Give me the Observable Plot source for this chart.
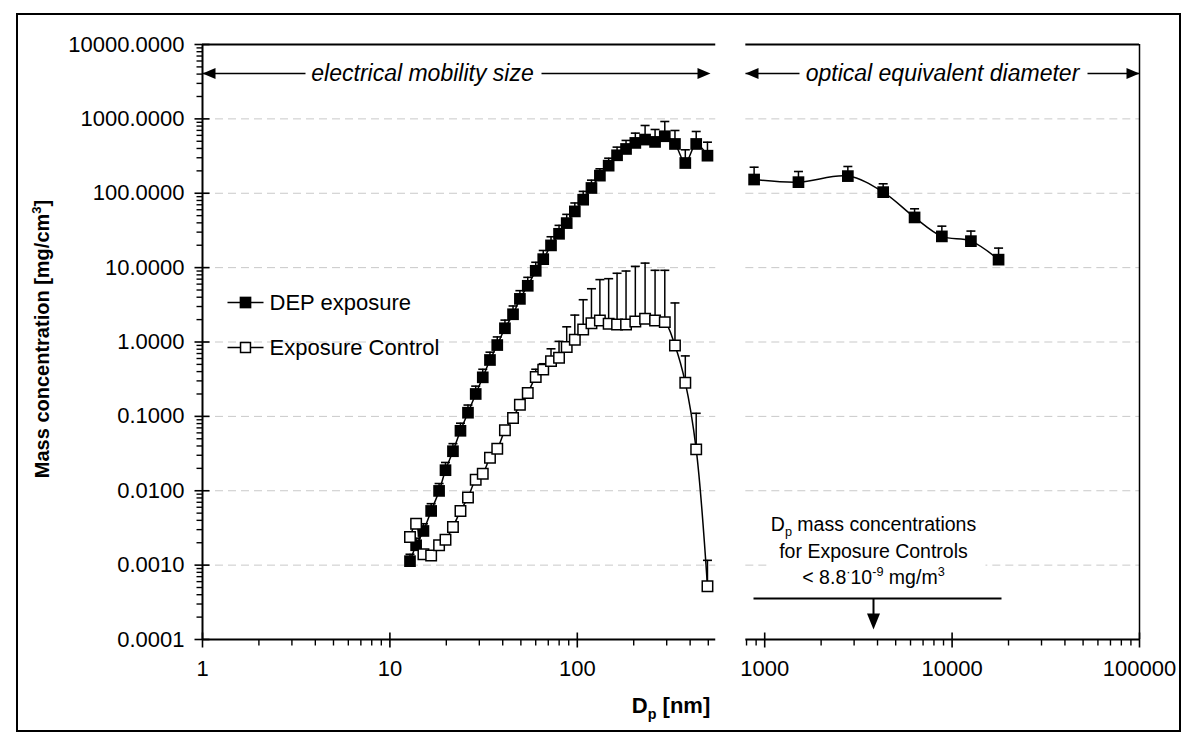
<!DOCTYPE html>
<html><head><meta charset="utf-8">
<script src="https://cdn.jsdelivr.net/npm/d3@7"></script>
<script src="https://cdn.jsdelivr.net/npm/@observablehq/plot@0.6"></script>
<style>
body{margin:0;background:#fff;}
#chart{position:relative;width:1200px;height:745px;}
</style>
</head><body><div id="chart"></div>
<script>
// ---------- data ----------
const diameters = [12.8,13.8,15.1,16.6,18.3,19.8,21.7,23.8,26.1,28.7,31.3,34.2,37.4,41.1,45.4,49.4,54.4,60.0,65.8,72.4,79.9,87.8,97.0,107.5,119,132,147,163,182,204,230,260,293,332,377,431,495];
const depMass = [0.00113,0.00185,0.00288,0.00535,0.00995,0.0189,0.034,0.064,0.112,0.2,0.335,0.573,0.91,1.53,2.36,3.8,5.7,9.06,13.0,19.9,28.5,39.7,57,81.9,117.7,172.5,235,324,394,475,527,490,584,460,255,460,320];
const depHigh = [0.0014,0.0023,0.0036,0.0067,0.0125,0.024,0.043,0.081,0.142,0.255,0.43,0.73,1.17,1.97,3.05,4.9,7.4,11.8,17,26,37,52,74,106,150,213,296,417,513,643,815,720,922,698,384,677,486];
const controlMass = [0.00239,0.00361,0.0014,0.00135,0.00185,0.0022,0.00326,0.00535,0.0081,0.0141,0.0169,0.0278,0.0367,0.0649,0.095,0.1435,0.206,0.338,0.425,0.553,0.615,0.855,1.07,1.475,1.79,1.95,1.76,1.72,1.72,1.89,2.06,1.95,1.85,0.9,0.284,0.036,0.00052];
const controlHigh = [null,null,null,null,null,null,null,null,null,null,null,null,null,null,null,null,null,0.43,0.51,0.81,1.02,1.6,2.3,3.7,5.2,6.9,7.1,8.4,9.0,10.4,11.5,9.2,9.2,3.35,0.65,0.11,0.00116];
const opticalDiameters = [878,1514,2778,4287,6306,8818,12600,17700];
const opticalMass = [153,141,170,103.5,47.3,26.3,22.7,12.8];
const opticalHigh = [224,196,229,134,61.8,36.1,31,18.3];

const yTicks = [0.0001,0.001,0.01,0.1,1,10,100,1000,10000];
const xTicks = [1,10,100,1000,10000,100000];
const panels = [{x1:1, x2:548},{x1:793, x2:100000}];
const seriesNames = ["DEP exposure","Exposure Control"];

// ---------- derived tables ----------
const dep = diameters.map((x,i)=>({x, y:depMass[i], hi:depHigh[i]}));
const ctl = diameters.map((x,i)=>({x, y:controlMass[i], hi:controlHigh[i]}));
const opt = opticalDiameters.map((x,i)=>({x, y:opticalMass[i], hi:opticalHigh[i]}));
const inPanel = x => panels.some(p => x >= p.x1*0.999 && x <= p.x2*1.001);
const xMinor = [];
for (let e=0;e<5;e++) for (let k=2;k<=9;k++) xMinor.push(k*10**e);
const xMinorUsed = xMinor.filter(inPanel);
const yMinor = [];
for (let e=-4;e<4;e++) for (let k=2;k<=9;k++) yMinor.push(+(k*10**e).toPrecision(3));
const gridRows = [];
for (const v of yTicks.slice(1,-1)) for (const p of panels) gridRows.push({y:v, x1:p.x1, x2:p.x2});
const edgeRows = [];
for (const p of panels) { edgeRows.push({y:1e-4, x1:p.x1, x2:p.x2}); edgeRows.push({y:1e4, x1:p.x1, x2:p.x2}); }

// ---------- symbols ----------
const lines = segs => ({draw(ctx){ for (const [a,b,c,d] of segs){ ctx.moveTo(a,b); ctx.lineTo(c,d);} }});
const poly = pts => ({draw(ctx){ ctx.moveTo(pts[0][0],pts[0][1]); for (const p of pts.slice(1)) ctx.lineTo(p[0],p[1]); ctx.closePath(); }});
const capSym = lines([[-4.5,0,4.5,0]]);
const xMajorSym = lines([[0,-7,0,8]]);
const xMinorSym = lines([[0,0,0,6]]);
const yMajorSym = lines([[-8,0,7,0]]);
const yMinorSym = lines([[-6,0,0,0]]);
const boxSym = {draw(ctx){ ctx.rect(566,461,217,85); }};

const font = "'Liberation Sans', Arial, Helvetica, sans-serif";
const ann = (t, dx, dy, o={}) => Plot.text([t], {text:d=>d, frameAnchor:"top-left", dx, dy, textAnchor:"middle", lineAnchor:"middle", fontSize:22, fill:"black", ...o});
const shape = (sym, o={}) => Plot.dot([0], {frameAnchor:"top-left", symbol:sym, fill:"none", stroke:"black", strokeWidth:1.5, ...o});

const plot = Plot.plot({
  width:1200, height:745,
  marginLeft:202, marginRight:61, marginTop:44, marginBottom:106,
  style:{fontFamily:font, fontSize:"22px", color:"black", background:"white", overflow:"visible"},
  x:{type:"log", domain:[1,100000]},
  y:{type:"log", domain:[0.0001,10000]},
  marks:[
    // grid
    Plot.ruleY(gridRows, {y:"y", x1:"x1", x2:"x2", stroke:"#c9c9c9", strokeWidth:1, strokeDasharray:"8,5"}),
    // annotation white box
    shape(boxSym, {fill:"white", stroke:"none"}),
    // frame lines
    Plot.ruleY(edgeRows, {y:"y", x1:"x1", x2:"x2", stroke:"black", strokeWidth:2}),
    Plot.ruleX([1], {y1:1e-4, y2:1e4, stroke:"black", strokeWidth:2}),
    Plot.ruleX([100000], {y1:1e-4, y2:1e4, stroke:"black", strokeWidth:1.5}),
    // ticks
    Plot.dot(xTicks, {x:d=>d, y:1e-4, symbol:xMajorSym, stroke:"black", fill:"none", strokeWidth:1.6}),
    Plot.dot(xMinorUsed, {x:d=>d, y:1e-4, symbol:xMinorSym, stroke:"black", fill:"none", strokeWidth:1.4}),
    Plot.dot(yTicks, {x:1, y:d=>d, symbol:yMajorSym, stroke:"black", fill:"none", strokeWidth:1.6}),
    Plot.dot(yMinor, {x:1, y:d=>d, symbol:yMinorSym, stroke:"black", fill:"none", strokeWidth:1.4}),
    // axes labels
    Plot.axisY({ticks:yTicks, tickFormat:d=>d.toFixed(4), tickSize:0, tickPadding:18, label:null, fontSize:22}),
    Plot.axisX({ticks:xTicks, tickFormat:d=>String(d), tickSize:0, tickPadding:21, label:null, fontSize:22}),
    // titles
    Plot.text(["Mass concentration [mg/cm^{3}]"], {text:d=>d, frameAnchor:"left", dx:-160, dy:-3, rotate:-90, textAnchor:"middle", lineAnchor:"middle", fontWeight:"bold", fontSize:20}),
    Plot.text(["D_{p} [nm]"], {text:d=>d, frameAnchor:"bottom", dy:66, textAnchor:"middle", lineAnchor:"middle", fontWeight:"bold", fontSize:22}),
    // DEP exposure
    Plot.line(dep, {x:"x", y:"y", stroke:"black", strokeWidth:1.5, curve:"catmull-rom"}),
    Plot.ruleX(dep, {x:"x", y1:"y", y2:"hi", stroke:"black", strokeWidth:1.5}),
    Plot.dot(dep, {x:"x", y:"hi", symbol:capSym, stroke:"black", fill:"none", strokeWidth:1.6}),
    Plot.dot(dep, {x:"x", y:"y", symbol:"square", r:6.6, fill:"black", stroke:"none"}),
    Plot.line(opt, {x:"x", y:"y", stroke:"black", strokeWidth:1.5, curve:"catmull-rom"}),
    Plot.ruleX(opt, {x:"x", y1:"y", y2:"hi", stroke:"black", strokeWidth:1.5}),
    Plot.dot(opt, {x:"x", y:"hi", symbol:capSym, stroke:"black", fill:"none", strokeWidth:1.6}),
    Plot.dot(opt, {x:"x", y:"y", symbol:"square", r:6.6, fill:"black", stroke:"none"}),
    // Exposure control
    Plot.line(ctl, {x:"x", y:"y", stroke:"black", strokeWidth:1.5, curve:"catmull-rom"}),
    Plot.ruleX(ctl.filter(d=>d.hi!=null), {x:"x", y1:"y", y2:"hi", stroke:"black", strokeWidth:1.5}),
    Plot.dot(ctl.filter(d=>d.hi!=null), {x:"x", y:"hi", symbol:capSym, stroke:"black", fill:"none", strokeWidth:1.6}),
    Plot.dot(ctl, {x:"x", y:"y", symbol:"square", r:5.9, fill:"white", stroke:"black", strokeWidth:1.5}),
    // legend
    shape(lines([[25,258,61,258],[25,303,61,303]])),
    shape("square", {dx:43, dy:258, r:6.6, fill:"black", stroke:"none"}),
    shape("square", {dx:43, dy:303, r:5.6, fill:"white", stroke:"black", strokeWidth:1.5}),
    ann(seriesNames[0], 67, 258, {textAnchor:"start"}),
    ann(seriesNames[1], 67, 303, {textAnchor:"start"}),
    // top span annotations
    shape(lines([[0,29,103,29],[339,29,500,29],[543,29,597,29],[885,29,937,29]]), {strokeWidth:1.5}),
    shape(poly([[0,29],[13,23.5],[13,34.5]]), {fill:"black", stroke:"none"}),
    shape(poly([[508,29],[495,23.5],[495,34.5]]), {fill:"black", stroke:"none"}),
    shape(poly([[543,29],[556,23.5],[556,34.5]]), {fill:"black", stroke:"none"}),
    shape(poly([[937,29],[924,23.5],[924,34.5]]), {fill:"black", stroke:"none"}),
    ann("electrical mobility size", 220, 29, {fontStyle:"italic", fontSize:23}),
    ann("optical equivalent diameter", 740, 29, {fontStyle:"italic", fontSize:23}),
    // control detection-limit annotation
    ann("D_{p} mass concentrations", 671, 480, {fontSize:19.5}),
    ann("for Exposure Controls", 671, 507, {fontSize:19.5}),
    ann("< 8.8^{·}10^{-9} mg/m^{3}", 671, 533, {fontSize:19.5}),
    shape(lines([[551,554,799,554]]), {strokeWidth:2}),
    shape(lines([[671,554,671,571]]), {strokeWidth:2}),
    shape(poly([[671,585],[664.5,569],[677.5,569]]), {fill:"black", stroke:"none"})
  ]
});

document.getElementById("chart").appendChild(plot);

// outer frame
d3.select(plot).append("rect").attr("x",17).attr("y",14).attr("width",1163).attr("height",717)
  .attr("fill","none").attr("stroke","black").attr("stroke-width",2);

// sub/superscripts
function richify(root){
  for (const t of root.querySelectorAll("text")) {
    const s = t.textContent;
    if (!/[_^]\{/.test(s) || t.querySelector("tspan")) continue;
    const fs = parseFloat(getComputedStyle(t).fontSize) || 20;
    t.textContent = "";
    const re = /([_^])\{([^}]*)\}/g;
    let last = 0, m, shift = 0;
    const add = (str, dy, small) => {
      const ts = document.createElementNS("http://www.w3.org/2000/svg","tspan");
      if (dy) ts.setAttribute("dy", dy.toFixed(2));
      if (small) ts.setAttribute("font-size", (fs*0.65).toFixed(1));
      ts.textContent = str;
      t.appendChild(ts);
    };
    while ((m = re.exec(s))) {
      if (m.index > last) { add(s.slice(last, m.index), -shift, false); shift = 0; }
      const d = m[1] === "_" ? fs*0.28 : -fs*0.42;
      add(m[2], d - shift, true); shift = d;
      last = re.lastIndex;
    }
    if (last < s.length) add(s.slice(last), -shift, false);
  }
}
richify(plot);
</script>
</body></html>
